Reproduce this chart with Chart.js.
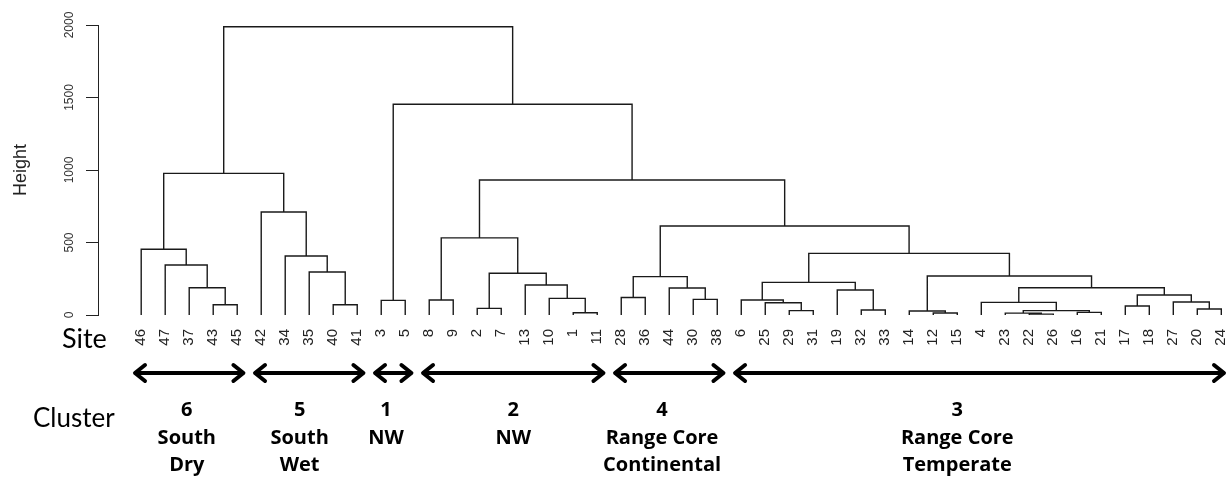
<!DOCTYPE html>
<html><head><meta charset="utf-8">
<script src="https://cdn.jsdelivr.net/npm/chart.js@4.4.1/dist/chart.umd.min.js"></script>
<style>html,body{margin:0;padding:0;background:#fff}#wrap{width:1230px;height:477px;position:relative}</style>
</head><body><div id="wrap"><canvas id="c" width="1230" height="477"></canvas></div>
<script>
// ---- DATA ----
// leaf order (site numbers) as shown along the bottom
const sites = [46,47,37,43,45,42,34,35,40,41,3,5,8,9,2,7,13,10,1,11,28,36,44,30,38,6,25,29,31,19,32,33,14,12,15,4,23,22,26,16,21,17,18,27,20,24];
// merge table (hclust style): negative = site (leaf), positive = earlier merge number (1-based)
const mergeLeft  = [-43,-37,-47,-46,-40,-35,-34,-42, 4, -3,-8,-2,-1,-10,-13,12,11,-28,-30,-44,18,-29,-25,-6,-32,-19,24,-12,-14,-22,-23,-16,31,-4,-17,-20,-27,35,34,29,27,21,17,10, 9];
const mergeRight = [-45,  1,  2,  3,-41,  5,  6,  7, 8, -5,-9,-7,-11,13, 14,15,16,-36,-38, 19,20,-31, 22,23,-33, 25,26,-15, 28,-26, 30,-21,32,33,-18,-24, 36,37,38,39,40,41,42,43,44];
const mergeHeight= [ 71,188,345,453, 71,297,407,710,977,101,103,46,16,115,207,288,532,121,108,186,265, 30, 85,103, 34,172,225, 14, 28,  6, 13, 18,30,87, 62, 41, 90,138,188,269,425,614,931,1453,1988];
const yTicks = [0,500,1000,1500,2000];
const clusterIds   = ['6','5','1','2','4','3'];
const clusterNames = [['South','Dry'],['South','Wet'],['NW'],['NW'],['Range Core','Continental'],['Range Core','Temperate']];
const clusterFirstSite = [46,42,3,8,28,6];
const clusterLastSite  = [45,41,5,11,38,24];

// ---- LAYOUT (not data) ----
const LAYOUT = {
  clusterLabelAt: [1.9, 6.6, 10.2, 15.5, 21.7, 34.0], // in leaf-index units
  arrowY: 373, arrowExt: 0.3,
  numY: 416, line1Y: 444, line2Y: 471
};

// ---- build dendrogram segments via leaf indices ----
const leafIndex = {}; sites.forEach((s,i)=>leafIndex[s]=i);
const nodeX = [], nodeY = [];
function pos(ref){ return ref < 0 ? [leafIndex[-ref], 0] : [nodeX[ref-1], nodeY[ref-1]]; }
const pts = [];
for (let k = 0; k < mergeHeight.length; k++) {
  const [xl, yl] = pos(mergeLeft[k]);
  const [xr, yr] = pos(mergeRight[k]);
  const h = mergeHeight[k];
  pts.push({x:xl,y:yl},{x:xl,y:h},{x:xr,y:h},{x:xr,y:yr},{x:xr,y:null});
  nodeX[k] = (xl + xr) / 2; nodeY[k] = h;
}

const annot = {
  id: 'annot',
  afterDraw(chart) {
    const ctx = chart.ctx, xs = chart.scales.x;
    ctx.save();
    ctx.fillStyle = '#000';
    ctx.textAlign = 'left'; ctx.textBaseline = 'alphabetic';
    ctx.font = '27px Lato';
    ctx.fillText('Site', 62, 348);
    ctx.font = '26px Lato';
    ctx.fillText('Cluster', 33, 427);
    // arrows
    ctx.strokeStyle = '#000'; ctx.lineWidth = 4; ctx.lineCap = 'round'; ctx.lineJoin = 'round';
    const y = LAYOUT.arrowY;
    for (let c = 0; c < clusterIds.length; c++) {
      let x1 = xs.getPixelForValue(leafIndex[clusterFirstSite[c]] - LAYOUT.arrowExt);
      let x2 = Math.min(xs.getPixelForValue(leafIndex[clusterLastSite[c]] + LAYOUT.arrowExt), chart.width - 5);
      ctx.beginPath(); ctx.moveTo(x1+2, y); ctx.lineTo(x2-2, y); ctx.stroke();
      ctx.beginPath(); ctx.moveTo(x1+11, y-8); ctx.lineTo(x1+1, y); ctx.lineTo(x1+11, y+8); ctx.stroke();
      ctx.beginPath(); ctx.moveTo(x2-11, y-8); ctx.lineTo(x2-1, y); ctx.lineTo(x2-11, y+8); ctx.stroke();
    }
    // cluster labels
    ctx.textAlign = 'center';
    ctx.font = 'bold 20px "Open Sans"';
    for (let c = 0; c < clusterIds.length; c++) {
      const cx = xs.getPixelForValue(LAYOUT.clusterLabelAt[c]);
      ctx.fillText(clusterIds[c], cx, LAYOUT.numY);
      const nm = clusterNames[c];
      if (nm[0]) ctx.fillText(nm[0], cx, LAYOUT.line1Y);
      if (nm[1]) ctx.fillText(nm[1], cx, LAYOUT.line2Y);
    }
    ctx.restore();
  }
};

new Chart(document.getElementById('c'), {
  type: 'scatter',
  data: { datasets: [{
    data: pts, showLine: true, spanGaps: false, tension: 0, clip: false,
    borderColor: '#1a1a1a', borderWidth: 1.4, pointRadius: 0, pointHoverRadius: 0,
    borderJoinStyle: 'miter', borderCapStyle: 'butt'
  }]},
  options: {
    responsive: false, animation: false, events: [],
    layout: { autoPadding: false, padding: { top: 25, right: 1.5, bottom: 0, left: 0 } },
    plugins: { legend: {display:false}, tooltip: {enabled:false} },
    scales: {
      x: {
        type: 'linear', min: -1.8, max: 45.3,
        afterBuildTicks: s => { s.ticks = sites.map((_, i) => ({value: i})); },
        afterFit: s => { s.height = 162; s.paddingRight = 1.5; s.paddingLeft = 0; },
        grid: { display: false, drawTicks: true, tickLength: 14 },
        border: { display: false },
        ticks: { autoSkip: false, minRotation: 90, maxRotation: 90, padding: 0,
          font: { family: 'Liberation Sans', size: 15 }, color: '#222',
          callback: (v, i) => String(sites[i]) }
      },
      y: {
        min: 0, max: 2000,
        afterBuildTicks: s => { s.ticks = yTicks.map(v => ({value: v})); },
        afterFit: s => { s.width = 98; },
        border: { display: true, color: '#222', width: 1 },
        grid: { display: true, drawOnChartArea: false, drawTicks: true, tickLength: 12, color: '#222', lineWidth: 1 },
        ticks: { minRotation: 90, maxRotation: 90, crossAlign: 'center', padding: 3,
          font: { family: 'Liberation Sans', size: 12 }, color: '#333',
          callback: v => String(v) },
        title: { display: true, text: 'Height', font: { family: 'Liberation Sans', size: 18 }, color: '#222', padding: { top: 10, bottom: 0 } }
      }
    }
  },
  plugins: [annot]
});
</script></body></html>
